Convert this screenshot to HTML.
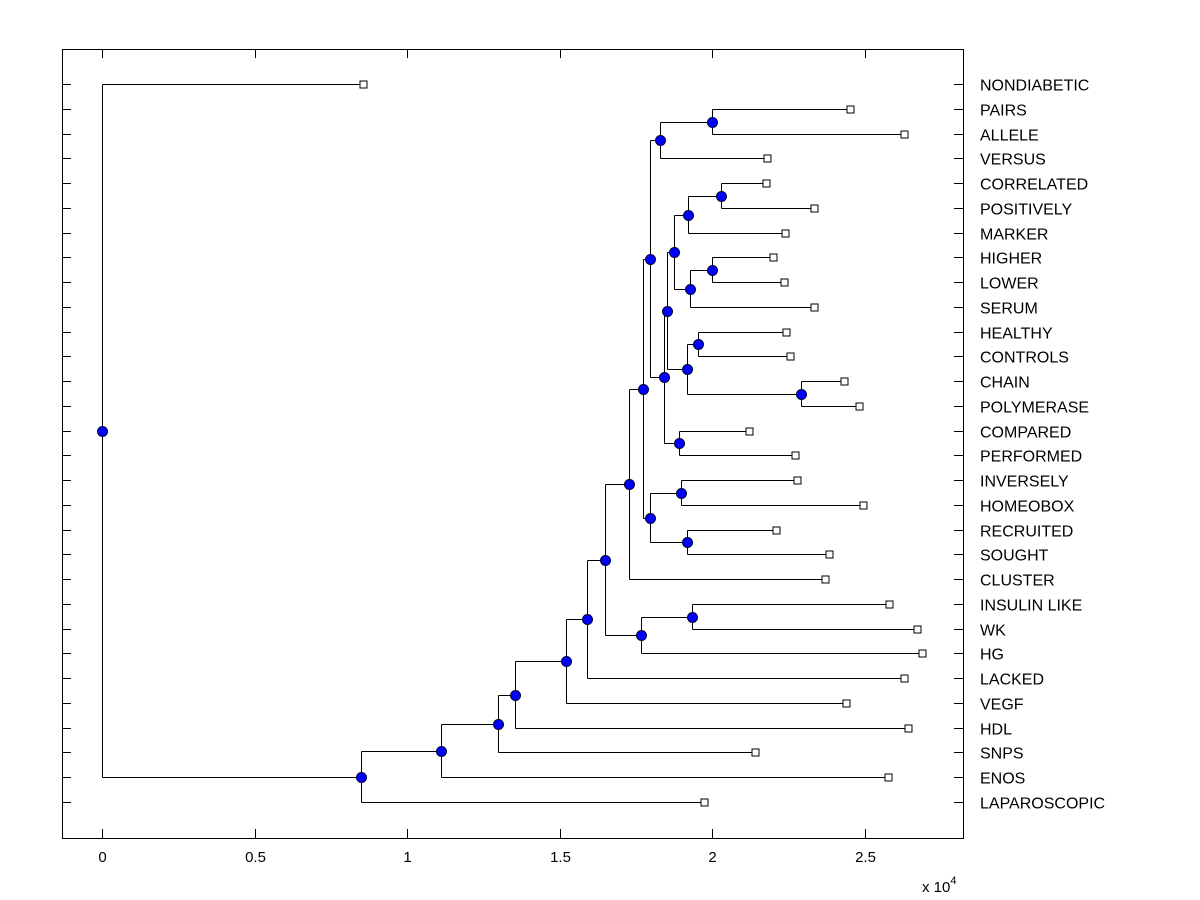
<!DOCTYPE html>
<html><head><meta charset="utf-8"><style>body{margin:0;background:#fff}svg{display:block;font-family:"Liberation Sans",Arial,sans-serif}</style></head>
<body>
<svg id="chart" width="1200" height="900" viewBox="0 0 1200 900"></svg>
<script>
const leafLabels=["NONDIABETIC","PAIRS","ALLELE","VERSUS","CORRELATED","POSITIVELY","MARKER","HIGHER","LOWER","SERUM","HEALTHY","CONTROLS","CHAIN","POLYMERASE","COMPARED","PERFORMED","INVERSELY","HOMEOBOX","RECRUITED","SOUGHT","CLUSTER","INSULIN LIKE","WK","HG","LACKED","VEGF","HDL","SNPS","ENOS","LAPAROSCOPIC"];
const leafValues=[0.856,2.452,2.630,2.180,2.177,2.334,2.239,2.200,2.236,2.334,2.243,2.256,2.433,2.482,2.121,2.272,2.279,2.495,2.210,2.384,2.370,2.580,2.672,2.689,2.630,2.439,2.643,2.141,2.577,1.974];
const nodeNames=["root","A","B","C","D","E","F","G","H","I","K","J","L","N","P","O","Q","S","U","W","V","X","T","Y","Z","R","M","AA","BB"];
const nodeValues=[0,0.849,1.111,1.298,1.354,1.521,1.590,1.649,1.728,1.767,1.934,1.774,1.797,1.830,2.000,1.843,1.852,1.875,1.921,2.030,1.928,2.000,1.918,1.954,2.292,1.892,1.797,1.898,1.918];
const nodeChildren=[[0,"A"],["B",29],["C",28],["D",27],["E",26],["F",25],["G",24],["H","I"],["J",20],["K",23],[21,22],["L","M"],["N","O"],["P",3],[1,2],["Q","R"],["S","T"],["U","V"],["W",6],[4,5],["X",9],[7,8],["Y","Z"],[10,11],[12,13],[14,15],["AA","BB"],[16,17],[18,19]];
const xTicks=[0,0.5,1,1.5,2,2.5];

const NS="http://www.w3.org/2000/svg",svg=document.getElementById("chart");
const L=62,R=963,T=49,B=838;
const xs=v=>Math.round(102+v*305)+0.5;
const ys=i=>Math.round(84+i*(802-84)/29)+0.5;
function mk(tag,a,p){const e=document.createElementNS(NS,tag);for(const k in a)e.setAttribute(k,a[k]);(p||svg).appendChild(e);return e;}
const gAx=mk("g",{"shape-rendering":"crispEdges"});


const frame=mk("rect",{x:L+0.5,y:T+0.5,width:R-L,height:B-T,fill:"none",stroke:"#000","stroke-width":1},gAx);


xTicks.forEach(v=>{const x=xs(v);
 mk("line",{x1:x,y1:B,x2:x,y2:B-9,stroke:"#000"},gAx);
 mk("line",{x1:x,y1:T,x2:x,y2:T+9,stroke:"#000"},gAx);
 const t=mk("text",{x:x,y:862,"text-anchor":"middle","font-size":15},gAx);t.textContent=String(v);
 
 
});
const ex=mk("text",{x:922,y:892,"font-size":15},gAx);ex.innerHTML='x 10<tspan dy="-8" font-size="11">4</tspan>';


leafLabels.forEach((s,i)=>{const y=ys(i);
 mk("line",{x1:L,y1:y,x2:L+9,y2:y,stroke:"#000"},gAx);
 mk("line",{x1:R,y1:y,x2:R-9,y2:y,stroke:"#000"},gAx);
 const t=mk("text",{x:980,y:y+6,"font-size":16},gAx);t.textContent=s;
 
 
});
const pos={};
leafValues.forEach((v,i)=>pos[i]={x:xs(v),y:ys(i)});
function place(n){const k=nodeNames.indexOf(n);if(pos[n])return pos[n];
 const ch=nodeChildren[k].map(c=>typeof c==="number"?pos[c]:place(c));
 pos[n]={x:xs(nodeValues[k]),y:Math.round(ch.reduce((a,c)=>a+c.y,0)/ch.length-0.5)+0.5,ch};return pos[n];}
place("root");
const gL=mk("g",{stroke:"#000","stroke-width":1,fill:"none","shape-rendering":"crispEdges"});


nodeNames.forEach(n=>{const p=pos[n];
 const ymin=Math.min(...p.ch.map(c=>c.y)),ymax=Math.max(...p.ch.map(c=>c.y));
 mk("line",{x1:p.x,y1:ymin,x2:p.x,y2:ymax},gL);
 p.ch.forEach(c=>mk("line",{x1:p.x,y1:c.y,x2:c.x,y2:c.y},gL));
});
leafValues.forEach((v,i)=>{const p=pos[i];
 const r=mk("rect",{x:p.x-3.5,y:p.y-3.5,width:7,height:7,fill:"#fff",stroke:"#000","shape-rendering":"crispEdges"});
 
 
});
nodeNames.forEach(n=>{const p=pos[n];
 const c=mk("circle",{cx:p.x,cy:p.y,r:5,fill:"#0000ff",stroke:"#000033","stroke-width":1});
 
 
});
</script>
</body></html>
